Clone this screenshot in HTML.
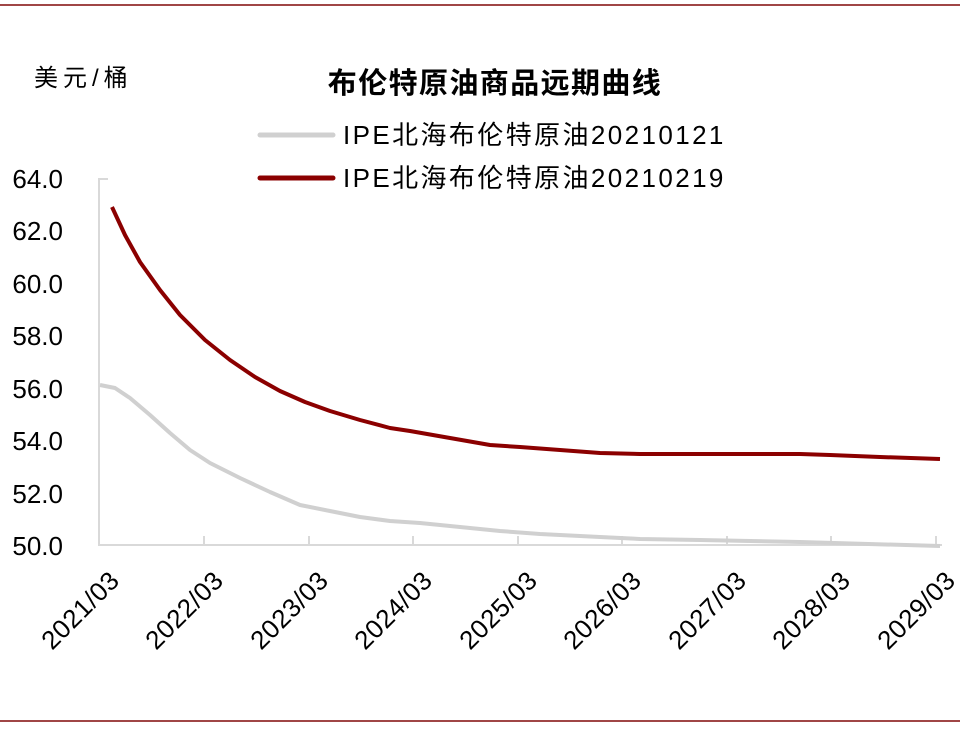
<!DOCTYPE html>
<html><head><meta charset="utf-8"><style>
html,body{margin:0;padding:0;background:#fff;}
svg text{font-family:"Liberation Sans","Noto Sans CJK SC",sans-serif;fill:#000;}
</style></head><body>
<svg width="960" height="726" viewBox="0 0 960 726" xmlns="http://www.w3.org/2000/svg">
<rect x="0" y="4" width="960" height="2" fill="#a04646"/>
<rect x="0" y="720" width="960" height="2" fill="#a04646"/>
<text x="34" y="86" font-size="24" letter-spacing="5">美元/桶</text>
<text x="495" y="93" font-size="29" font-weight="bold" letter-spacing="1.4" text-anchor="middle">布伦特原油商品远期曲线</text>
<line x1="260" y1="135" x2="333" y2="135" stroke="#d0d0d0" stroke-width="5" stroke-linecap="round"/>
<text x="343" y="144" font-size="26" letter-spacing="2.4">IPE北海布伦特原油20210121</text>
<line x1="260" y1="178" x2="333" y2="178" stroke="#8b0000" stroke-width="5" stroke-linecap="round"/>
<text x="343" y="187" font-size="26" letter-spacing="2.4">IPE北海布伦特原油20210219</text>
<g stroke="#d9d9d9" stroke-width="2" fill="none">
<polyline points="108,179 99,179 99,545 942,545"/>
<line x1="204" y1="536" x2="204" y2="545"/><line x1="309" y1="536" x2="309" y2="545"/>
<line x1="413" y1="536" x2="413" y2="545"/><line x1="518" y1="536" x2="518" y2="545"/>
<line x1="622" y1="536" x2="622" y2="545"/><line x1="727" y1="536" x2="727" y2="545"/>
<line x1="831" y1="536" x2="831" y2="545"/><line x1="936" y1="536" x2="936" y2="545"/>
</g>
<g font-size="26" text-anchor="end">
<text x="63" y="188">64.0</text><text x="63" y="240">62.0</text><text x="63" y="293">60.0</text>
<text x="63" y="345">58.0</text><text x="63" y="398">56.0</text><text x="63" y="450">54.0</text>
<text x="63" y="503">52.0</text><text x="63" y="555">50.0</text>
</g>
<g font-size="26" text-anchor="end" letter-spacing="0.5">
<text transform="translate(121,582) rotate(-45)">2021/03</text>
<text transform="translate(225,582) rotate(-45)">2022/03</text>
<text transform="translate(330,582) rotate(-45)">2023/03</text>
<text transform="translate(434,582) rotate(-45)">2024/03</text>
<text transform="translate(539,582) rotate(-45)">2025/03</text>
<text transform="translate(643,582) rotate(-45)">2026/03</text>
<text transform="translate(748,582) rotate(-45)">2027/03</text>
<text transform="translate(852,582) rotate(-45)">2028/03</text>
<text transform="translate(957,582) rotate(-45)">2029/03</text>
</g>
<polyline fill="none" stroke="#d0d0d0" stroke-width="4" stroke-linejoin="round" points="100,385 115,388 130,398 150,415 170,433 190,450 210,463 240,478 270,492 300,505 330,511 360,517 390,521 420,523 460,527 500,531 540,534 600,537 640,539 700,540 800,542 940,546"/>
<polyline fill="none" stroke="#8b0000" stroke-width="4" stroke-linejoin="round" points="112,207 125,235 140,262 160,290 180,315 205,340 230,360 255,377 280,391 305,402 330,411 360,420 390,428 410,431 450,438 490,445 520,447 560,450 600,453 640,454 700,454 800,454 830,455 880,457 940,459"/>
</svg>
</body></html>
